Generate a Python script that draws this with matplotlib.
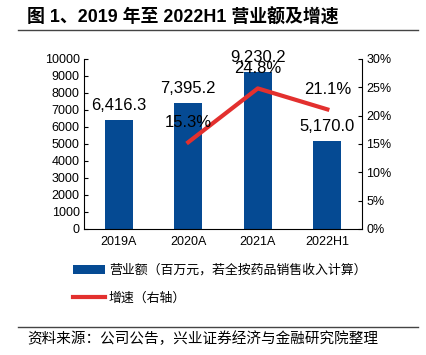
import matplotlib
matplotlib.use("Agg")
import matplotlib.pyplot as plt
from matplotlib.lines import Line2D

plt.rcParams['font.family'] = ['Liberation Sans', 'Noto Sans CJK SC', 'DejaVu Sans']

categories = ['2019A', '2020A', '2021A', '2022H1']
revenue = [6416.3, 7395.2, 9230.2, 5170.0]
growth_cats = ['2020A', '2021A', '2022H1']
growth = [15.3, 24.8, 21.1]

bar_color = '#054a93'
line_color = '#e3302e'


def main():
    fig = plt.figure(figsize=(4.26, 3.55), dpi=100)
    ax = fig.add_axes([0.197, 0.355, 0.653, 0.479])
    ax2 = ax.twinx()

    x = list(range(len(categories)))
    bars = ax.bar(x, revenue, width=0.4, color=bar_color, zorder=2)
    gx = [categories.index(c) for c in growth_cats]
    line, = ax2.plot(gx, growth, color=line_color, lw=3, zorder=3)

    ax.set_xlim(-0.5, 3.5)
    ax.set_ylim(0, 10000)
    ax.set_yticks(range(0, 10001, 1000))
    ax2.set_ylim(0, 30)
    ax2.set_yticks(range(0, 31, 5))
    ax2.set_yticklabels([f'{v}%' for v in range(0, 31, 5)])
    ax.set_xticks(x)
    ax.set_xticklabels(categories)

    for a in (ax, ax2):
        a.spines['top'].set_visible(False)
        a.tick_params(axis='y', direction='in', length=3, labelsize=9, pad=3)
        a.tick_params(axis='x', length=0, labelsize=9, pad=5)
    ax.spines['right'].set_visible(False)
    ax2.spines['left'].set_visible(False)
    ax2.spines['bottom'].set_visible(False)

    # put growth line above the bars
    ax.set_zorder(1)
    ax2.set_zorder(2)
    ax.patch.set_visible(False)

    for xi, v in zip(x, revenue):
        ax.annotate(f'{v:,.1f}', (xi, v), xytext=(0, 5), textcoords='offset points',
                    ha='center', va='bottom', fontsize=12)
    for xi, v in zip(gx, growth):
        ax2.annotate(f'{v:.1f}%', (xi, v), xytext=(0, 14), textcoords='offset points',
                     ha='center', va='center', fontsize=12)

    handles = [bars, Line2D([], [], color=line_color, lw=3)]
    labels = ['营业额（百万元，若全按药品销售收入计算）', '增速（右轴）']
    fig.legend(handles, labels, loc='upper left', bbox_to_anchor=(0.171, 0.255),
               frameon=False, fontsize=9.3, handlelength=2.5, handletextpad=0.3,
               labelspacing=1.2, borderpad=0, borderaxespad=0)

    fig.text(0.063, 0.95, '图 1、2019 年至 2022H1 营业额及增速', fontsize=12.9,
             fontweight='bold', ha='left', va='center')
    fig.add_artist(Line2D([0.042, 0.982], [0.915, 0.915], color='#444444', lw=1))
    fig.add_artist(Line2D([0.042, 0.982], [0.079, 0.079], color='#444444', lw=1))
    fig.text(0.063, 0.047, '资料来源：公司公告，兴业证券经济与金融研究院整理',
             fontsize=10.5, ha='left', va='center')

    fig.savefig('out.png', dpi=100)


if __name__ == '__main__':
    main()
